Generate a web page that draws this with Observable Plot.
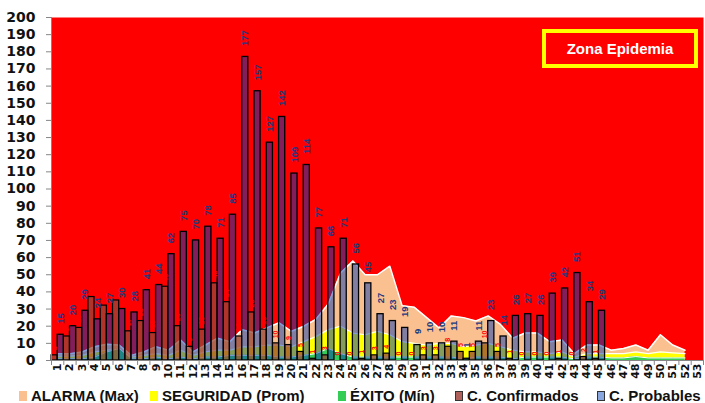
<!DOCTYPE html>
<html>
<head>
<meta charset="utf-8">
<script src="https://cdn.jsdelivr.net/npm/d3@7"></script>
<script src="https://cdn.jsdelivr.net/npm/@observablehq/plot@0.6"></script>
<style>
  body { margin: 0; background: #fff; }
  #wrap { position: relative; width: 705px; height: 403px; overflow: hidden; font-family: "Liberation Sans", Arial, sans-serif; }
  #chart svg { display: block; }
  #zona { position: absolute; left: 542px; top: 29px; width: 156px; height: 39px; box-sizing: border-box;
          border: 4px solid #FFFF00; background: #FF0000; color: #fff; font: bold 15px "Liberation Sans", Arial, sans-serif;
          display: flex; align-items: center; justify-content: center; }
  #legend { position: absolute; left: 0; top: 387px; width: 705px; height: 17px; }
  .item { position: absolute; top: 0; height: 17px; display: flex; align-items: center; white-space: nowrap;
          font: bold 15px "Liberation Sans", Arial, sans-serif; color: #111; }
  .sw { width: 8px; height: 10px; margin-right: 4px; box-sizing: border-box; }
</style>
</head>
<body>
<div id="wrap">
  <div id="chart"></div>
  <div id="zona">Zona Epidemia</div>
  <div id="legend"></div>
</div>
<script>
// Semanas epidemiológicas
const weeks = [1,2,3,4,5,6,7,8,9,10,11,12,13,14,15,16,17,18,19,20,21,22,23,24,25,26,27,28,29,30,31,32,33,34,35,36,37,38,39,40,41,42,43,44,45,46,47,48,49,50,51,52,53];

// C. Confirmados
const confirmados = [3,14,19,37,32,35,17,23,16,43, 20,8,18,45,34,14,28,18,10,9, 5,1,3,0,0,1,3,4,0,0, 3,3,8,5,5,10,5,1,0,0, 0,1,0,2,1, null,null,null,null,null,null,null,null];

// C. Probables
const probables = [15,20,29,24,27,30,28,41,44,62, 75,70,78,71,85,177,157,127,142,109, 114,77,66,71,56,45,27,23,19,9, 10,10,11,1,11,23,14,26,27,26, 39,42,51,34,29, null,null,null,null,null,null,null,null];

// ALARMA (Max)
const alarma = [4,4,5,8,9.5,9,3,5,8,6, 12,5,9,13,11,18,16,19,22,17, 20,24,33,51,58,50,50,55,32,31, 25,19,26,25,23,26,21,13,16,16, 11,12,4,9,9,6,7,9,6,15, 9,6,null];

// SEGURIDAD (Prom)
const seguridad = [2.5,2.5,3,5,6,6,2,3,4,3, 6,3,5,6,6,8,8,9,9,8, 11,14,18,20,16,15,17,15,11,10, 9,10,10,8,9,10,8,6,5,5, 4,5,2,4,4,4,4,5,4,5, 4.5,4,null];

// ÉXITO (Mín)
const exito = [1,1,1,2,5,7,1,1,2,1, 2,1,2,2,3,3,3,3,2,2, 3,4,7,4,2,2,2,2,2,2, 2,2,2,1,2,2,2,1,2,2, 2,2,1,2,2,1.5,1.5,2.3,1.5,1.5, 1.5,1.5,null];

// Y tick labels
const yTicks = [0,10,20,30,40,50,60,70,80,90,100,110,120,130,140,150,160,170,180,190,200];

// Legend
const legendLabels = ["ALARMA (Max)", "SEGURIDAD (Prom)", "ÉXITO (Mín)", "C. Confirmados", "C. Probables"];

const rows = weeks.map((w, i) => ({
  week: w, conf: confirmados[i], prob: probables[i],
  max: alarma[i], prom: seguridad[i], min: exito[i]
}));
const areaRows = rows.filter(d => d.max != null);
const boundaries = [0.5, ...weeks.map(w => w + 0.5)];

const C = {
  red: "#FF0000", peach: "#FAC090", yellow: "#FFFF00", green: "#33CC55",
  conf: "#964637", prob: "#0A3CB4", axis: "#868686"
};

const chart = Plot.plot({
  width: 705, height: 385,
  marginLeft: 51, marginRight: 2, marginTop: 17, marginBottom: 25,
  style: { fontFamily: "DejaVu Sans", background: "transparent", overflow: "visible" },
  x: { domain: [0.5, 53.5], label: null },
  y: { domain: [0, 200], label: null },
  marks: [
    Plot.frame({ fill: C.red, stroke: null }),
    Plot.areaY(areaRows, { x: "week", y1: 0, y2: "max", fill: C.peach }),
    Plot.lineY(areaRows, { x: "week", y: "max", stroke: "white", strokeWidth: 1.5 }),
    Plot.areaY(areaRows, { x: "week", y1: 0, y2: "prom", fill: C.yellow }),
    Plot.lineY(areaRows, { x: "week", y: "prom", stroke: "white", strokeWidth: 1.2 }),
    Plot.areaY(areaRows, { x: "week", y1: 0, y2: "min", fill: C.green }),
    Plot.lineY(areaRows, { x: "week", y: "min", stroke: "white", strokeWidth: 1 }),
    Plot.rect(rows, { filter: d => d.conf != null, x1: d => d.week - 0.5, x2: d => d.week, y1: 0, y2: "conf",
      fill: C.conf, fillOpacity: 0.75, stroke: "black", strokeWidth: 1.2 }),
    Plot.rect(rows, { filter: d => d.prob != null, x1: d => d.week, x2: d => d.week + 0.5, y1: 0, y2: "prob",
      fill: C.prob, fillOpacity: 0.5, stroke: "black", strokeWidth: 1.3 }),
    Plot.text(rows, { filter: d => d.prob != null, x: d => d.week + 0.25, y: "prob", text: d => String(d.prob),
      rotate: -90, textAnchor: "start", dy: -11, fill: "#203A80", fontSize: 9.5, fontWeight: "bold", fontFamily: "Liberation Sans" }),
    Plot.text(rows, { filter: d => d.conf != null, x: d => d.week - 0.25, y: "conf", text: d => String(d.conf),
      rotate: -90, textAnchor: "start", dy: -5, fill: "#FF0000", fontSize: 7, fontWeight: "bold", fontFamily: "Liberation Sans" }),
    Plot.ruleY([0], { stroke: C.axis }),
    Plot.ruleX([0.5], { stroke: C.axis }),
    Plot.axisY(yTicks, { tickSize: 5, tickPadding: 11, fontSize: 14, fontWeight: "bold", stroke: C.axis, fill: "#111", label: null }),
    Plot.axisX(boundaries, { tickSize: 5, tickFormat: () => "", stroke: C.axis, label: null }),
    Plot.axisX(weeks, { tickSize: 0, tickPadding: 3, tickRotate: -90, fontSize: 11, fontWeight: "bold", fill: "#111", label: null, tickFormat: d => String(d) })
  ]
});
document.getElementById("chart").appendChild(chart);

// Legend (HTML, below the SVG)
const legendFills = [C.peach, C.yellow, C.green, "#B0605A", "#8AA6DE"];
const legendBorders = ["none", "none", "none", "1px solid #333", "1px solid #333"];
const legendLefts = [19, 150, 338, 455, 597];
const leg = document.getElementById("legend");
legendLabels.forEach((lab, i) => {
  const it = document.createElement("div");
  it.className = "item";
  it.style.left = legendLefts[i] + "px";
  const sw = document.createElement("span");
  sw.className = "sw";
  sw.style.background = legendFills[i];
  sw.style.border = legendBorders[i];
  const tx = document.createElement("span");
  tx.textContent = lab;
  it.appendChild(sw);
  it.appendChild(tx);
  leg.appendChild(it);
});
</script>
</body>
</html>
